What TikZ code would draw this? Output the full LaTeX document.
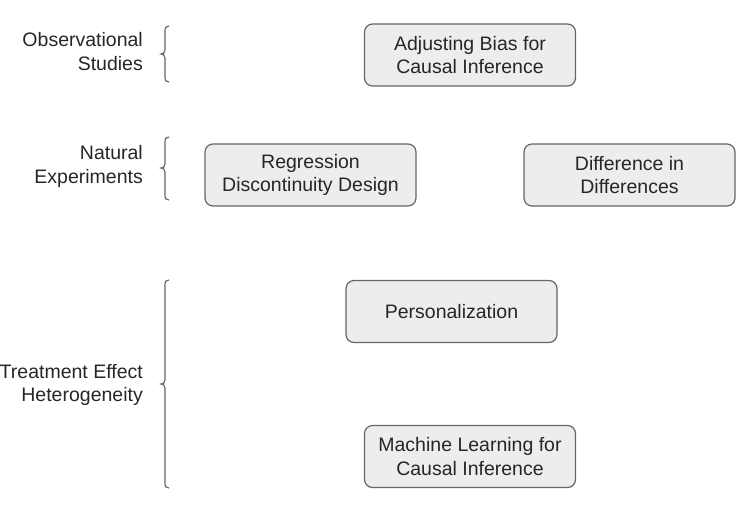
\documentclass[tikz,border=0pt]{standalone}
\usepackage{fontspec}
\setmainfont{Liberation Sans}
\begin{document}
\begin{tikzpicture}[x=1pt,y=-1pt,
  txt/.style={font=\fontsize{19.5}{23.5}\selectfont, text=black!85, align=center, inner sep=0pt},
  box/.style={txt, draw=black!60, fill=black!7, line width=1.2pt, rounded corners=8pt, minimum width=211pt, minimum height=62pt},
  lab/.style={txt, align=right, anchor=east},
  brace/.style={draw=black!60, line width=1.2pt}]
\useasboundingbox (0,0) rectangle (741,520);
\node[box] (adj) at (470,55) {Adjusting Bias for\\Causal Inference};
\node[box] (rdd) at (310.5,175) {Regression\\Discontinuity Design};
\node[box] (did) at (629.5,175) {Difference in\\Differences};
\node[box] (pers) at (451.5,311.5) {Personalization};
\node[box] (ml) at (470,456.5) {Machine Learning for\\Causal Inference};
\node[lab] (obs) at (143,51.5) {Observational\\Studies};
\node[lab] (nat) at (143,166.5) {Natural\\Experiments};
\node[lab] (teh) at (143,385) {Treatment Effect\\Heterogeneity};
% braces
\foreach \t/\m/\b in {26/54/82, 137/168/200, 280/384/488}{
  \draw[brace] (169,\t) .. controls (166,\t) and (165,\t+1.5) .. (165,\t+5)
    -- (165,\m-4) .. controls (165,\m-1) and (163,\m) .. (161,\m)
    .. controls (163,\m) and (165,\m+1) .. (165,\m+4)
    -- (165,\b-5) .. controls (165,\b-1.5) and (166,\b) .. (169,\b);
}
\end{tikzpicture}
\end{document}
